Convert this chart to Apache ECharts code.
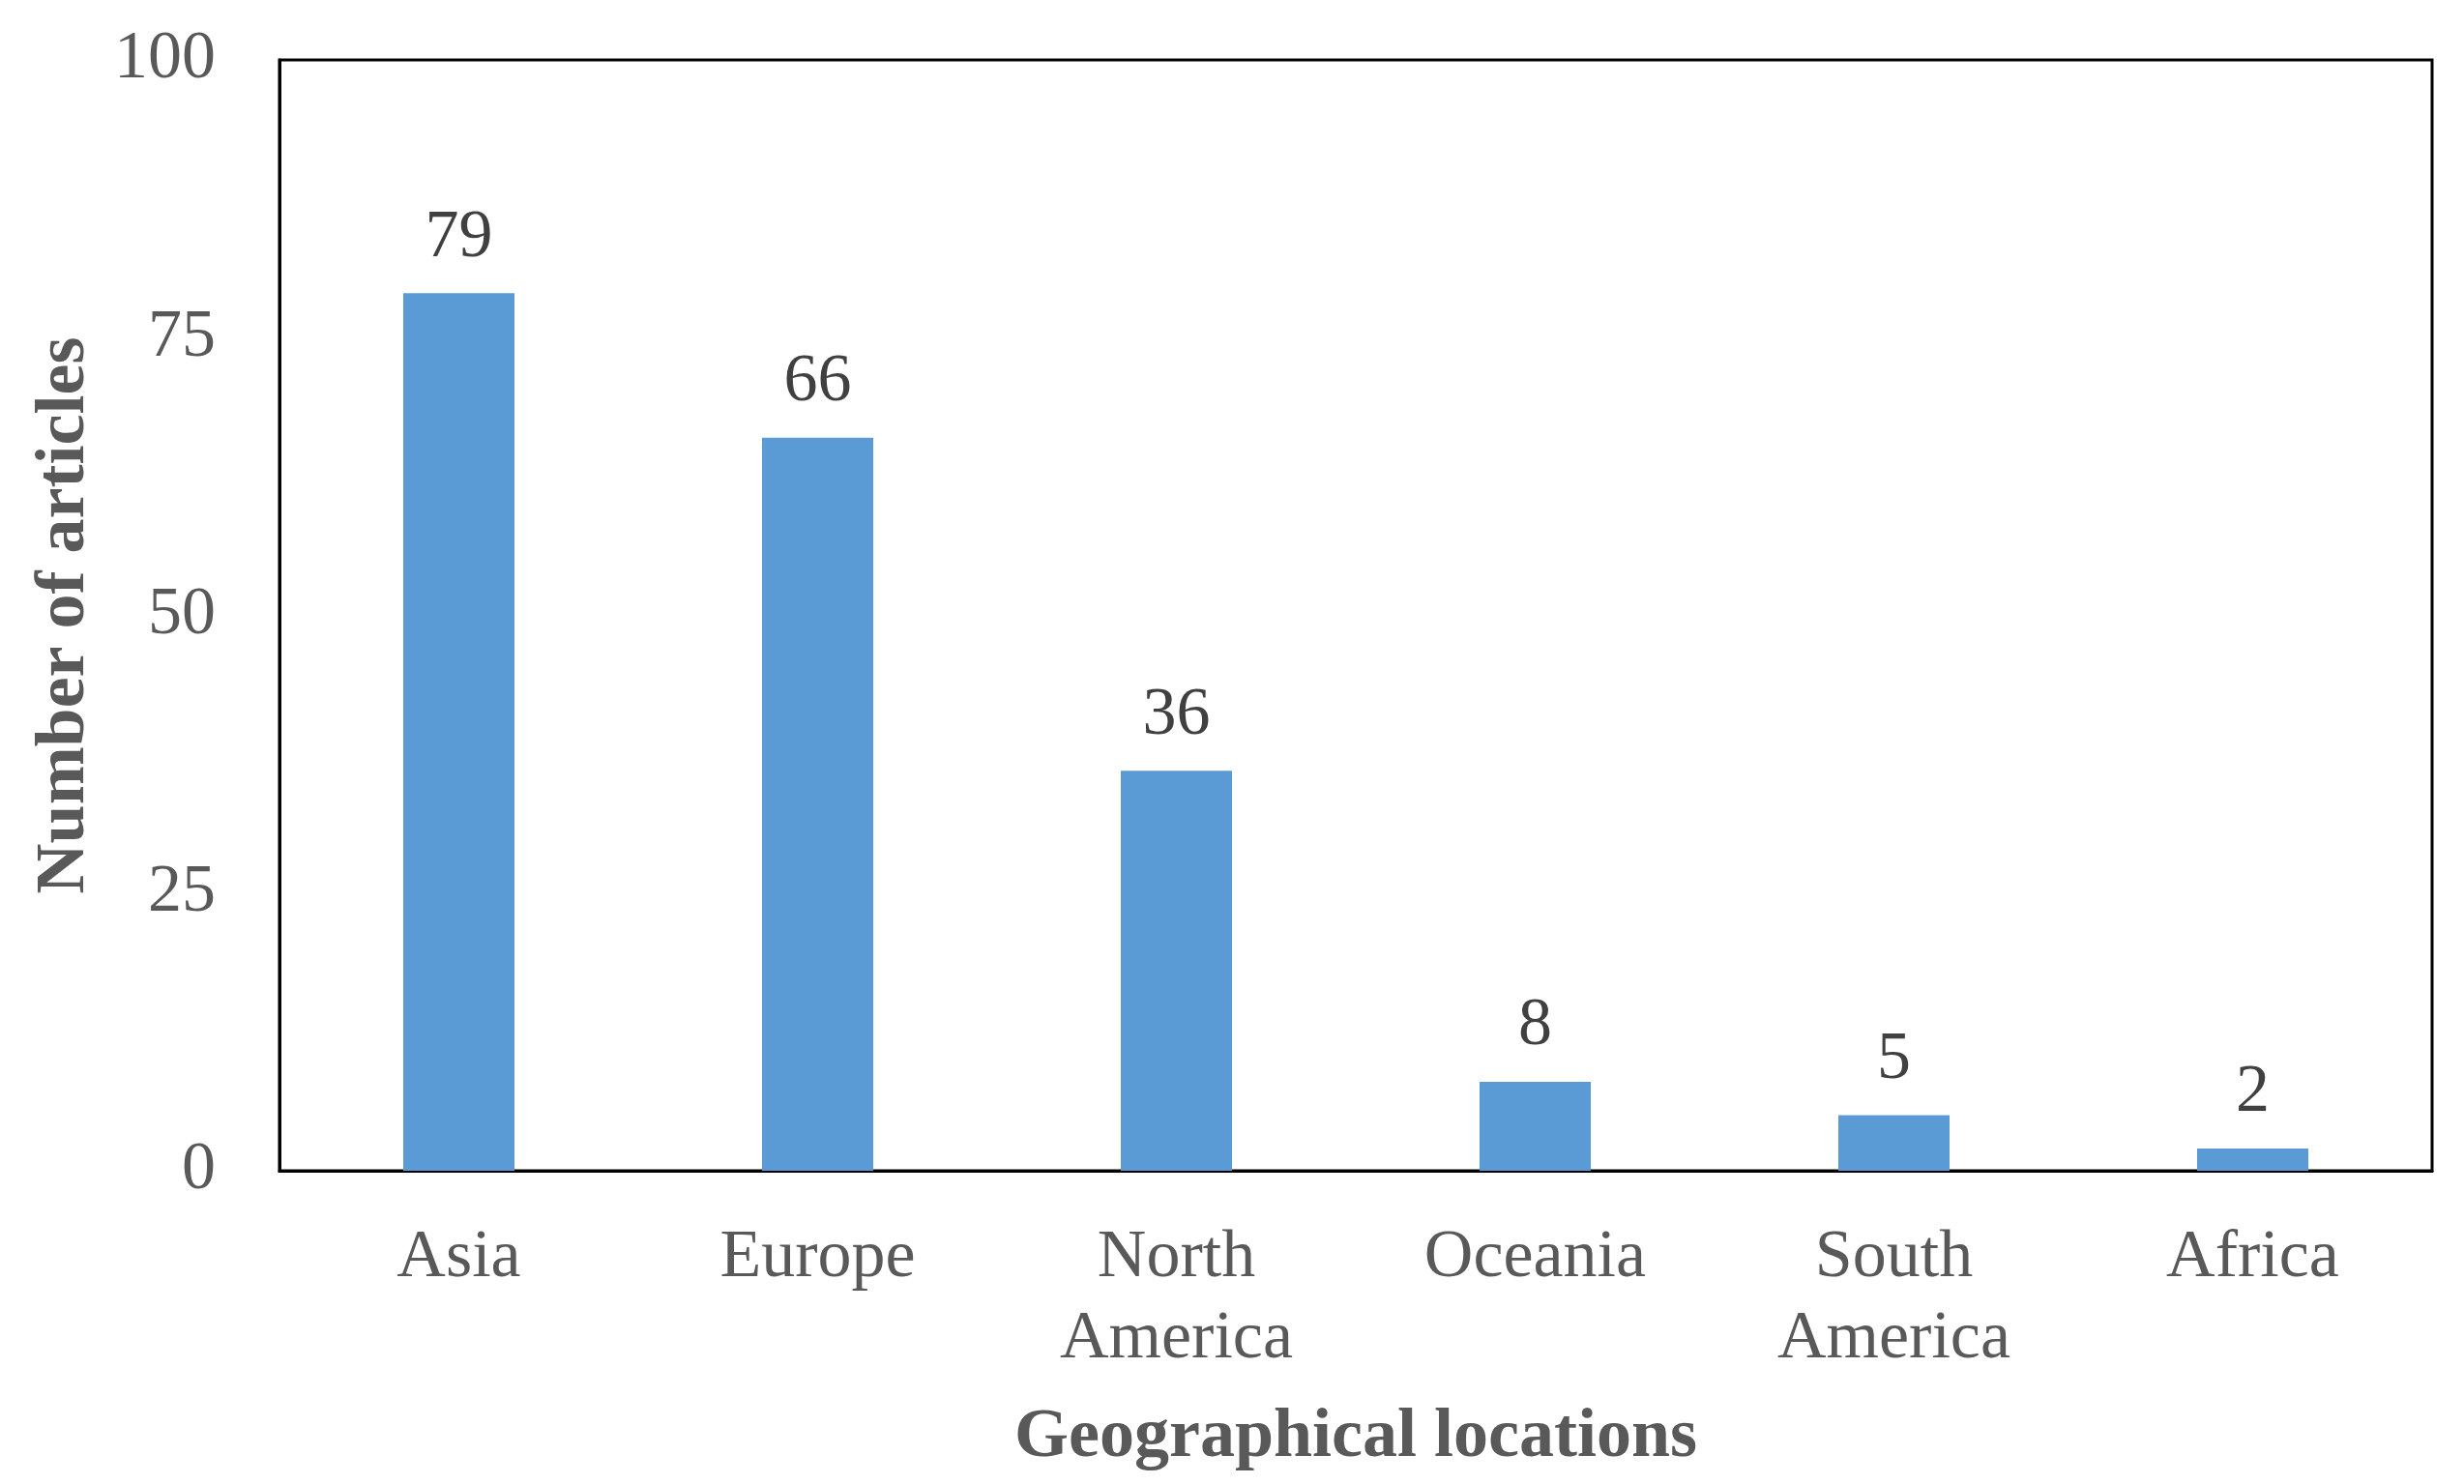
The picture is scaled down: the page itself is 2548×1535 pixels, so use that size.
<!DOCTYPE html>
<html>
<head>
<meta charset="utf-8">
<script src="https://cdn.jsdelivr.net/npm/echarts@6/dist/echarts.min.js"></script>
<style>
  html, body { margin: 0; padding: 0; background: #fff; }
  #chart { width: 2548px; height: 1535px; }
</style>
</head>
<body>
<div id="chart"></div>
<script>
const regions = ['Asia', 'Europe', 'North\nAmerica', 'Oceania', 'South\nAmerica', 'Africa']
const articles = [79, 66, 36, 8, 5, 2]
const yTicks = { min: 0, max: 100, interval: 25 }

const font = 'Liberation Serif'
const chart = echarts.init(document.getElementById('chart'))

chart.setOption({
  backgroundColor: '#fff',
  animation: false,
  grid: {
    left: 289,
    right: 33,
    top: 62,
    bottom: 324,
    outerBoundsMode: 'none',
    show: true,
    borderColor: '#000',
    borderWidth: 3,
  },
  xAxis: {
    type: 'category',
    data: regions,
    name: 'Geographical locations',
    nameLocation: 'middle',
    nameGap: 240,
    nameTextStyle: {
      fontFamily: font,
      fontWeight: 'bold',
      fontSize: 72,
      color: '#595959',
    },
    axisLine: { lineStyle: { color: '#000', width: 3 } },
    axisTick: { show: false },
    axisLabel: {
      fontFamily: font,
      fontSize: 70,
      color: '#595959',
      lineHeight: 84,
      margin: 49,
      interval: 0,
    },
  },
  yAxis: {
    type: 'value',
    min: yTicks.min,
    max: yTicks.max,
    interval: yTicks.interval,
    name: 'Number of articles',
    nameLocation: 'middle',
    nameGap: 186,
    nameRotate: 90,
    nameTextStyle: {
      fontFamily: font,
      fontWeight: 'bold',
      fontSize: 72,
      color: '#595959',
    },
    splitLine: { show: false },
    axisLine: { show: true, lineStyle: { color: '#000', width: 3 } },
    axisTick: { show: false },
    axisLabel: {
      fontFamily: font,
      fontSize: 70,
      color: '#595959',
      margin: 66,
    },
  },
  series: [
    {
      type: 'bar',
      data: articles,
      barWidth: '31%',
      itemStyle: { color: '#5B9BD5' },
      label: {
        show: true,
        position: 'top',
        distance: 22,
        fontFamily: font,
        fontSize: 70,
        color: '#404040',
      },
    },
  ],
})
</script>
</body>
</html>
